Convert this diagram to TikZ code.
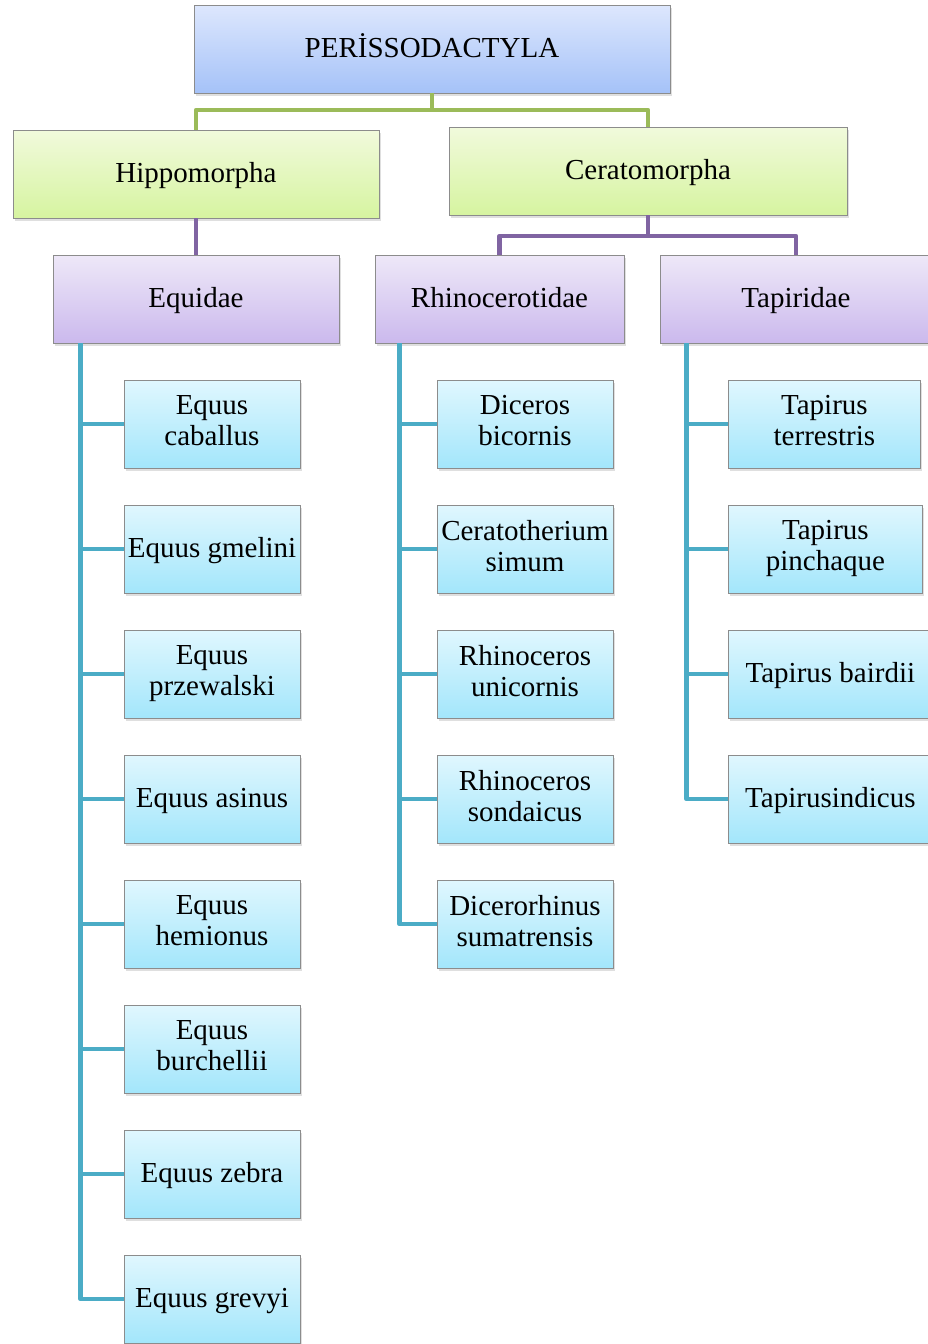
\documentclass[tikz,border=0pt]{standalone}
\usepackage{fontspec}
\setmainfont{Liberation Serif}
\usepackage{xcolor}
\usepackage{tikz}
\usetikzlibrary{positioning,shadows,calc}

\definecolor{rootTop}{HTML}{DDE7FD}
\definecolor{rootBot}{HTML}{A5C2F8}
\definecolor{subTop}{HTML}{F1FADC}
\definecolor{subBot}{HTML}{D6F4A0}
\definecolor{famTop}{HTML}{EEE8F8}
\definecolor{famBot}{HTML}{CBB9ED}
\definecolor{spTop}{HTML}{E0F7FE}
\definecolor{spBot}{HTML}{A3E6FB}
\definecolor{lineGreen}{HTML}{9BBB59}
\definecolor{linePurple}{HTML}{8064A2}
\definecolor{lineCyan}{HTML}{4BACC6}

\newcommand{\boxstrut}{\rule[-6.75pt]{0pt}{31pt}}

\begin{document}
\begin{tikzpicture}[
    x=1pt, y=-1pt,
    box/.style={rectangle, draw=black!45, line width=0.8pt, minimum height=88pt, inner sep=1pt,
        align=center, font=\fontsize{29}{31}\selectfont,
        execute at begin node=\boxstrut, execute at end node=\boxstrut,
        drop shadow={shadow xshift=1.5pt, shadow yshift=-3pt, opacity=0.25}},
    rootbox/.style={box, top color=rootTop, bottom color=rootBot, minimum width=476pt},
    subbox/.style={box, top color=subTop, bottom color=subBot},
    fambox/.style={box, top color=famTop, bottom color=famBot},
    spbox/.style={box, top color=spTop, bottom color=spBot},
    link/.style={line width=4.5pt, line join=round},
    glink/.style={link, draw=lineGreen},
    plink/.style={link, draw=linePurple},
    clink/.style={link, draw=lineCyan}
]
\useasboundingbox (0,0) rectangle (927,1344);

% Order
\node[rootbox] (order) at (432,49) {PERİSSODACTYLA};

% Suborders
\node[subbox, minimum width=366pt] (hippo) at (196,174) {Hippomorpha};
\node[subbox, minimum width=398pt] (cerato) at (648,171) {Ceratomorpha};

% Families
\node[fambox, minimum width=286pt] (equidae) at (196,299) {Equidae};
\node[fambox, minimum width=249pt] (rhino) at (499.5,299) {Rhinocerotidae};
\node[fambox, minimum width=272pt] (tapir) at (796,299) {Tapiridae};

% Species
\foreach \txt [count=\i] in {{Equus\\caballus}, {Equus gmelini}, {Equus\\przewalski},
    {Equus asinus}, {Equus\\hemionus}, {Equus\\burchellii}, {Equus zebra}, {Equus grevyi}}
  \node[spbox, minimum width=176pt] (eq\i) at (212,{424+125*(\i-1)}) {\txt};

\foreach \txt [count=\i] in {{Diceros\\bicornis}, {Ceratotherium\\simum}, {Rhinoceros\\unicornis},
    {Rhinoceros\\sondaicus}, {Dicerorhinus\\sumatrensis}}
  \node[spbox, minimum width=176pt] (rh\i) at (525,{424+125*(\i-1)}) {\txt};

\node[spbox, anchor=west, minimum width=192pt] (tp1) at (728,424) {Tapirus\\terrestris};
\node[spbox, anchor=west, minimum width=194pt] (tp2) at (728,549) {Tapirus\\pinchaque};
\node[spbox, anchor=west, minimum width=204pt] (tp3) at (728,674) {Tapirus bairdii};
\node[spbox, anchor=west, minimum width=204pt] (tp4) at (728,799) {Tapirusindicus};

% Connectors
\coordinate (gsplit) at (432,110);
\draw[glink] (order.south) -- (gsplit) -| (hippo.north);
\draw[glink] (gsplit) -| (cerato.north);

\coordinate (psplit) at (648,236);
\draw[plink] (hippo.south) -- (equidae.north);
\draw[plink] (cerato.south) -- (psplit) -| (rhino.north);
\draw[plink] (psplit) -| (tapir.north);

\coordinate (eqbus) at ([xshift=28pt]equidae.south west);
\coordinate (rhbus) at ([xshift=25pt]rhino.south west);
\coordinate (tpbus) at ([xshift=27pt]tapir.south west);
\foreach \i in {1,...,8} \draw[clink] (eqbus) |- (eq\i.west);
\foreach \i in {1,...,5} \draw[clink] (rhbus) |- (rh\i.west);
\foreach \i in {1,...,4} \draw[clink] (tpbus) |- (tp\i.west);

\end{tikzpicture}
\end{document}
